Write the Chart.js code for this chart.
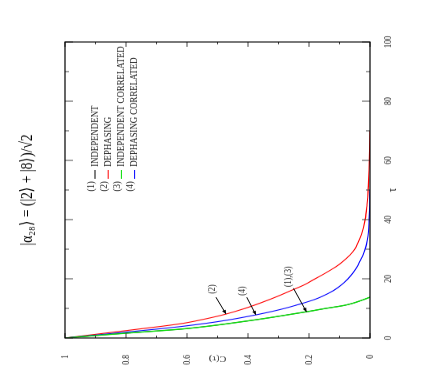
<!DOCTYPE html>
<html>
<head>
<meta charset="utf-8">
<script src="https://cdn.jsdelivr.net/npm/chart.js@4.4.0/dist/chart.umd.min.js"></script>
<style>
  html, body { margin: 0; padding: 0; background: #fff; overflow: hidden; }
  /* the figure is drawn upright, then squeezed a little and turned a quarter left */
  #wrap {
    position: absolute; left: 0; top: 0;
    width: 478px; height: 436px;
    transform-origin: 0 0;
    transform: translateY(382px) rotate(-90deg) scaleX(0.8);
  }
</style>
</head>
<body>
<div id="wrap"><canvas id="chart" width="478" height="436"></canvas></div>
<script>
// C(tau)
// (1) independent and (3) independent correlated lie on the same curve
const tauIndep = [0, 1, 2, 3, 4, 5, 6, 7, 8, 9, 10, 11, 12, 13, 13.8];
const cIndep   = [1, 0.88, 0.75, 0.62, 0.53, 0.455, 0.385, 0.32, 0.26, 0.2, 0.145, 0.085, 0.048, 0.02, 0];

const tauDeph = [0, 1, 2, 3, 4, 5, 6, 7, 8, 10, 12, 14, 16, 18, 20, 22, 24, 26, 28, 30, 32, 35, 40, 45, 50, 55, 60, 70];
const cDeph   = [1, 0.92, 0.84, 0.76, 0.68, 0.61, 0.56, 0.515, 0.475, 0.41, 0.355, 0.305, 0.26, 0.215, 0.18, 0.145, 0.113, 0.087, 0.066, 0.05, 0.04, 0.028, 0.016, 0.01, 0.006, 0.004, 0.002, 0];

const tauDephCorr = [0, 1, 2, 3, 4, 5, 6, 7, 8, 9, 10, 11, 12, 13, 14, 16, 18, 20, 22, 24, 26, 28, 30, 33, 36, 40, 45, 50];
const cDephCorr   = [1, 0.9, 0.8, 0.7, 0.61, 0.535, 0.47, 0.415, 0.365, 0.32, 0.28, 0.245, 0.212, 0.182, 0.158, 0.12, 0.093, 0.072, 0.056, 0.043, 0.033, 0.023, 0.016, 0.009, 0.005, 0.003, 0.001, 0];

const seriesNums   = ['(1)', '(2)', '(3)', '(4)'];
const seriesLabels = ['INDEPENDENT', 'DEPHASING', 'INDEPENDENT CORRELATED', 'DEPHASING CORRELATED'];
const seriesColors = ['#000000', '#ff0000', '#00dd00', '#0000ff'];

const tauTicks = [0, 20, 40, 60, 80, 100];
const cTicks = [0, 0.2, 0.4, 0.6, 0.8, 1];

const FONT = "'Liberation Serif', 'Times New Roman', serif";

function points(xs, ys) {
    return xs.map((x, i) => ({ x: x, y: ys[i] }));
}

// arrows with their labels, in data units (tau, C)
const arrows = [
    { text: '(2)',     label: [16.5, 0.516], tail: [13.75, 0.505], tip: [8.1, 0.472] },
    { text: '(4)',     label: [15.9, 0.418], tail: [13.75, 0.404], tip: [7.8, 0.374] },
    { text: '(1),(3)', label: [20.7, 0.269], tail: [16.8, 0.251],  tip: [8.8, 0.208] }
];

const framePlugin = {
    id: 'frame',
    afterDraw(chart) {
        const ctx = chart.ctx;
        const { left, right, top, bottom } = chart.chartArea;
        const xs = chart.scales.x, ys = chart.scales.y;
        ctx.save();

        // ticks inward on all four sides
        ctx.strokeStyle = '#444';
        ctx.lineWidth = 1;
        ctx.beginPath();
        for (let t = 0; t <= 100; t += 10) {
            const px = xs.getPixelForValue(t);
            const len = tauTicks.includes(t) ? 8 : 4;
            ctx.moveTo(px, bottom); ctx.lineTo(px, bottom - len);
            ctx.moveTo(px, top); ctx.lineTo(px, top + len);
        }
        for (let k = 0; k <= 10; k++) {
            const py = ys.getPixelForValue(k / 10);
            const len = k % 2 === 0 ? 6 : 3;
            ctx.moveTo(left, py); ctx.lineTo(left + len, py);
            ctx.moveTo(right, py); ctx.lineTo(right - len, py);
        }
        ctx.stroke();

        ctx.strokeStyle = '#000';
        ctx.lineWidth = 1.2;
        ctx.strokeRect(left, top, right - left, bottom - top);

        // key
        ctx.font = '11px ' + FONT;
        ctx.textBaseline = 'middle';
        seriesLabels.forEach((lab, i) => {
            const y = top + 30 + i * 13.2;
            ctx.fillStyle = '#222';
            ctx.textAlign = 'right';
            ctx.fillText(seriesNums[i], left + 196, y - 4);
            ctx.strokeStyle = seriesColors[i];
            ctx.lineWidth = 1;
            ctx.beginPath();
            ctx.moveTo(left + 199, y); ctx.lineTo(left + 210, y);
            ctx.stroke();
            ctx.textAlign = 'left';
            ctx.fillText(lab, left + 214, y);
        });

        // arrows
        ctx.font = '10px ' + FONT;
        ctx.textAlign = 'center';
        arrows.forEach(a => {
            const lx = xs.getPixelForValue(a.label[0]), ly = ys.getPixelForValue(a.label[1]);
            const x0 = xs.getPixelForValue(a.tail[0]), y0 = ys.getPixelForValue(a.tail[1]);
            const x1 = xs.getPixelForValue(a.tip[0]), y1 = ys.getPixelForValue(a.tip[1]);
            ctx.fillStyle = '#222';
            ctx.fillText(a.text, lx, ly);
            ctx.strokeStyle = '#000';
            ctx.lineWidth = 1;
            ctx.beginPath();
            ctx.moveTo(x0, y0); ctx.lineTo(x1, y1);
            ctx.stroke();
            const ang = Math.atan2(y1 - y0, x1 - x0);
            ctx.fillStyle = '#000';
            ctx.beginPath();
            ctx.moveTo(x1, y1);
            ctx.lineTo(x1 - 5 * Math.cos(ang) + 2 * Math.sin(ang), y1 - 5 * Math.sin(ang) - 2 * Math.cos(ang));
            ctx.lineTo(x1 - 5 * Math.cos(ang) - 2 * Math.sin(ang), y1 - 5 * Math.sin(ang) + 2 * Math.cos(ang));
            ctx.closePath();
            ctx.fill();
        });
        ctx.restore();
    }
};

function line(i, xs, ys, order, width) {
    return {
        label: seriesLabels[i],
        data: points(xs, ys),
        borderColor: seriesColors[i],
        backgroundColor: seriesColors[i],
        borderWidth: width,
        pointRadius: 0,
        cubicInterpolationMode: 'monotone',
        fill: false,
        order: order
    };
}

new Chart(document.getElementById('chart').getContext('2d'), {
    type: 'line',
    data: {
        datasets: [
            line(0, tauIndep, cIndep, 3, 0.8),
            line(1, tauDeph, cDeph, 2, 1.1),
            line(2, tauIndep, cIndep, 0, 1.4),
            line(3, tauDephCorr, cDephCorr, 1, 1.1)
        ]
    },
    options: {
        responsive: false,
        animation: false,
        devicePixelRatio: 1,
        layout: { padding: { left: 0, right: 53, top: 0, bottom: 36 } },
        plugins: {
            legend: { display: false },
            tooltip: { enabled: false },
            title: {
                display: true,
                fullSize: false,
                text: '|α₂₈⟩ = (|2⟩ + |8⟩)/√2',
                color: '#000',
                font: { family: FONT, size: 17, weight: 'normal' },
                padding: { top: 17, bottom: 27.6 }
            }
        },
        scales: {
            x: {
                type: 'linear',
                min: 0, max: 100,
                grid: { display: false },
                border: { display: false },
                ticks: {
                    stepSize: 10,
                    autoSkip: false,
                    maxRotation: 0,
                    padding: 4,
                    color: '#222',
                    font: { family: FONT, size: 10 },
                    callback: v => (tauTicks.includes(v) ? String(v) : '')
                },
                title: {
                    display: true,
                    text: 'τ',
                    color: '#222',
                    font: { family: FONT, size: 12 },
                    padding: { top: 0, bottom: 0 }
                },
                afterFit: s => { s.height = 30; }
            },
            y: {
                min: 0, max: 1,
                grid: { display: false },
                border: { display: false },
                ticks: {
                    stepSize: 0.1,
                    autoSkip: false,
                    padding: 13,
                    color: '#222',
                    font: { family: FONT, size: 10 },
                    callback: v => {
                        const k = Math.round(v * 10);
                        return k % 2 === 0 ? String(k / 10) : '';
                    }
                },
                title: {
                    display: true,
                    text: 'C(τ)',
                    color: '#222',
                    font: { family: FONT, size: 10 },
                    padding: { top: 23.5, bottom: 0 }
                },
                afterFit: s => { s.width = 55; }
            }
        }
    },
    plugins: [framePlugin]
});
</script>
</body>
</html>
